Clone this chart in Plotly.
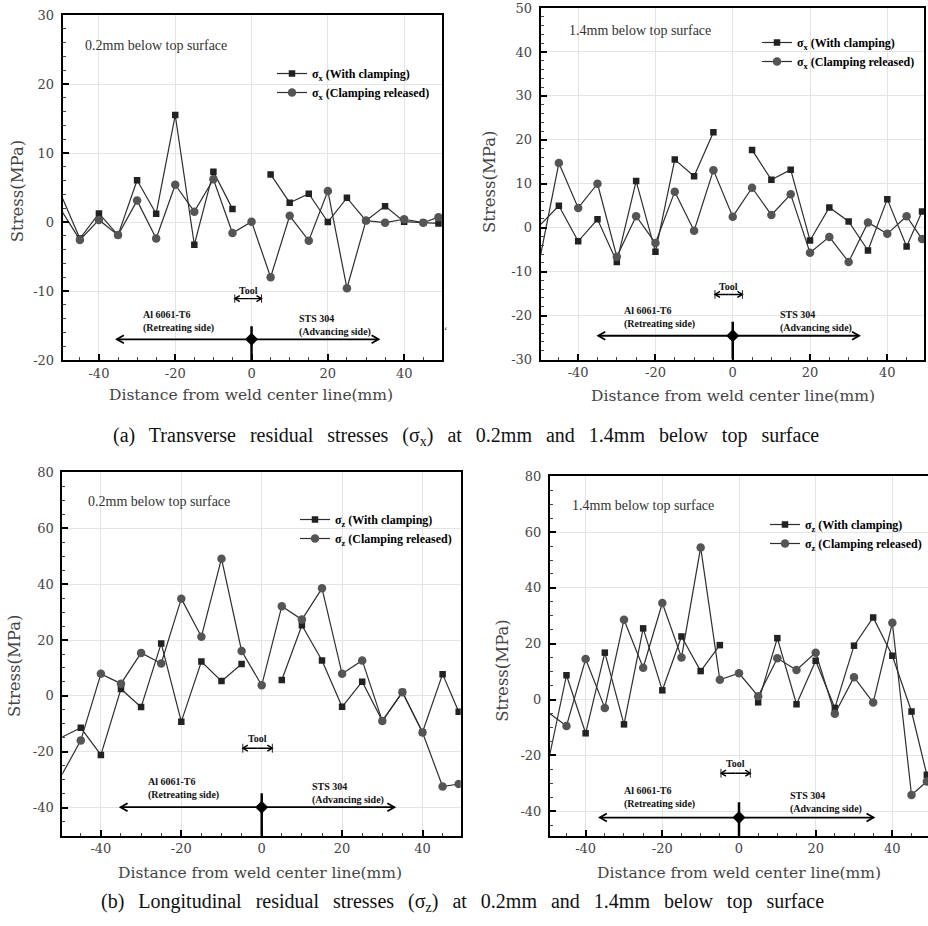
import plotly.graph_objects as go

# ---------------- data ----------------
x_pos = [-51, -45, -40, -35, -30, -25, -20, -15, -10, -5, 0, 5, 10, 15, 20, 25, 30, 35, 40, 45, 49]

sx02_clamp = [5.3, -2.4, 1.25, -1.9, 6.05, 1.2, 15.5, -3.3, 7.3, 1.9, None, 6.9, 2.8, 4.1, 0.0, 3.5, 0.2, 2.3, 0.05, -0.1, -0.2]
sx02_rel = [2.7, -2.6, 0.3, -1.9, 3.1, -2.4, 5.4, 1.5, 6.2, -1.6, 0.05, -8.0, 0.9, -2.7, 4.5, -9.6, 0.2, -0.1, 0.4, -0.1, 0.7]
sx14_clamp = [-0.4, 5.0, -3.1, 1.9, -7.8, 10.6, -5.5, 15.5, 11.7, 21.7, None, 17.7, 10.9, 13.2, -2.9, 4.6, 1.4, -5.2, 6.5, -4.3, 3.7]
sx14_rel = [-11.9, 14.7, 4.5, 10.0, -6.6, 2.6, -3.5, 8.2, -0.7, 13.1, 2.5, 9.1, 2.9, 7.6, -5.7, -2.1, -7.8, 1.2, -1.4, 2.6, -2.6]
sz02_clamp = [-15.7, -11.4, -21.1, 2.5, -4.0, 18.8, -9.2, 12.3, 5.3, 11.4, None, 5.7, 25.3, 12.7, -3.9, 5.1, -8.9, 1.4, -13.0, 7.8, -5.7]
sz02_rel = [-31.6, -15.9, 7.9, 4.4, 15.4, 11.6, 34.8, 21.2, 49.1, 16.1, 3.8, 32.1, 27.3, 38.5, 7.9, 12.7, -9.0, 1.3, -13.1, -32.4, -31.5]
sz14_clamp = [-30.5, 8.7, -12.1, 16.8, -8.9, 25.5, 3.3, 22.6, 10.2, 19.5, None, -1.0, 22.0, -1.7, 13.9, -3.0, 19.3, 29.4, 15.7, -4.3, -27.0]
sz14_rel = [-3.4, -9.5, 14.5, -3.0, 28.6, 11.4, 34.6, 15.1, 54.5, 7.1, 9.4, 1.2, 14.8, 10.6, 16.8, -5.1, 8.0, -1.1, 27.5, -34.2, -29.4]

x_tick_vals = [-40, -20, 0, 20, 40]
x_tick_text = ["-40", "-20", "0", "20", "40"]
y1_tick_vals = [-20, -10, 0, 10, 20, 30]
y1_tick_text = ["-20", "-10", "0", "10", "20", "30"]
y2_tick_vals = [-30, -20, -10, 0, 10, 20, 30, 40, 50]
y2_tick_text = ["-30", "-20", "-10", "0", "10", "20", "30", "40", "50"]
yz_tick_vals = [-40, -20, 0, 20, 40, 60, 80]
yz_tick_text = ["-40", "-20", "0", "20", "40", "60", "80"]

panel_labels = ["0.2mm below top surface", "1.4mm below top surface",
                "0.2mm below top surface", "1.4mm below top surface"]
x_title = "Distance from weld center line(mm)"
y_title = "Stress(MPa)"
SP = "\u00a0\u2009 "
caption_a = SP.join("(a) Transverse residual stresses (σ<sub>x</sub>) at 0.2mm and 1.4mm below top surface".split(" "))
caption_b = SP.join("(b) Longitudinal residual stresses (σ<sub>z</sub>) at 0.2mm and 1.4mm below top surface".split(" "))

# ---------------- layout helpers ----------------
W, H = 928, 926
def px(v):
    return v / W
def py(v):
    return 1 - v / H

TICKFONT = dict(family="DejaVu Serif", size=13, color="#444")
SERIF = "Liberation Serif"
BOLD10 = dict(family=SERIF, size=10, color="#111", weight="bold")

# panel frames in pixels: (left, right, top, bottom, xrange, yrange)
frames = [
    (62.7, 442.3, 15, 360, [-49.5, 50], [-20, 30]),
    (540.7, 924, 8, 359.5, [-49.7, 49.5], [-30, 50]),
    (62.3, 460.7, 472.3, 835.7, [-49.6, 49.5], [-50, 80]),
    (550, 928, 476.3, 835.7, [-49.3, 49.3], [-48.8, 80]),
]

def xaxis(fr, anchor, mirror=True):
    l, r, t, b, xr, yr = fr
    return dict(range=xr, domain=[px(l), px(r)], anchor=anchor, automargin=False,
                tickmode="array", tickvals=x_tick_vals, ticktext=x_tick_text,
                ticks="inside", ticklen=6, tickwidth=2, tickcolor="black",
                minor=dict(ticks="inside", ticklen=3, tickwidth=1, tickcolor="#444",
                           tickmode="linear", tick0=0, dtick=5, showgrid=False),
                showline=True, linecolor="black", linewidth=2, mirror=mirror,
                showgrid=True, gridcolor="#e4e4e4", gridwidth=1, zeroline=False,
                tickfont=TICKFONT, fixedrange=True)

def yaxis(fr, anchor, tv, tt, mdt, mirror=True):
    l, r, t, b, xr, yr = fr
    return dict(range=yr, domain=[py(b), py(t)], anchor=anchor, automargin=False,
                tickmode="array", tickvals=tv, ticktext=tt,
                ticks="inside", ticklen=6, tickwidth=2, tickcolor="black",
                minor=dict(ticks="inside", ticklen=3, tickwidth=1, tickcolor="#444",
                           tickmode="linear", tick0=0, dtick=mdt, showgrid=False),
                showline=True, linecolor="black", linewidth=2, mirror=mirror,
                showgrid=True, gridcolor="#e4e4e4", gridwidth=1, zeroline=False,
                tickfont=TICKFONT, ticklabelstandoff=4, fixedrange=True)

fig = go.Figure()

panels = [
    (sx02_clamp, sx02_rel, "x", "x", "y", "legend"),
    (sx14_clamp, sx14_rel, "x", "x2", "y2", "legend2"),
    (sz02_clamp, sz02_rel, "z", "x3", "y3", "legend3"),
    (sz14_clamp, sz14_rel, "z", "x4", "y4", "legend4"),
]
for clamp, rel, sym, xa, ya, lg in panels:
    fig.add_trace(go.Scatter(
        x=x_pos, y=clamp, mode="lines+markers", xaxis=xa, yaxis=ya, legend=lg,
        name=f"σ<sub>{sym}</sub> (With clamping)",
        line=dict(color="#2e2e2e", width=1.2),
        marker=dict(symbol="square", size=6.5, color="#222"),
        connectgaps=False))
    fig.add_trace(go.Scatter(
        x=x_pos, y=rel, mode="lines+markers", xaxis=xa, yaxis=ya, legend=lg,
        name=f"σ<sub>{sym}</sub> (Clamping released)",
        line=dict(color="#2e2e2e", width=1.2),
        marker=dict(symbol="circle", size=8.5, color="#555"),
        connectgaps=False))

# annotation geometry per panel (data coordinates)
annot_geo = [
    # ybottom, arr_y, vtop, left_tip, right_tip, tool_y, tool_l, tool_r, tool_txt_y, tool_bar, al_x, al_y, sts_x, sts_y
    (-20, -17.0, -15.1, -35.3, 33.3, -11.1, -4.4, 2.6, -9.9, 0.6, -29.0, -14.4, 12.0, -15.0),
    (-30, -24.6, -21.4, -34.8, 32.7, -15.2, -4.6, 2.5, -13.3, 1.0, -28.6, -20.4, 11.8, -21.4),
    (-50, -39.8, -34.8, -35.1, 33.0, -18.7, -4.7, 2.65, -15.1, 1.6, -28.9, -33.0, 12.0, -34.75),
    (-48.8, -42.3, -36.8, -36.3, 35.1, -26.4, -4.7, 2.95, -23.1, 1.6, -30.4, -35.0, 12.9, -36.75),
]
axis_ids = [("x", "y"), ("x2", "y2"), ("x3", "y3"), ("x4", "y4")]

annotations = []
shapes = []

def arrow(xa, ya, fr, x_from, x_to, y, head_len, head_half, width):
    l, r, t, b, xr, yr = fr
    ux = (xr[1] - xr[0]) / (r - l)
    uy = (yr[1] - yr[0]) / (b - t)
    s = 1 if x_to > x_from else -1
    hx = x_to - s * head_len * ux
    out = [dict(type="line", xref=xa, yref=ya, x0=x_from, x1=x_to, y0=y, y1=y,
                line=dict(color="black", width=width))]
    out.append(dict(type="path", xref=xa, yref=ya,
                    path=f"M{hx},{y + head_half * uy} L{x_to},{y} L{hx},{y - head_half * uy}",
                    line=dict(color="black", width=width)))
    return out

for (xa, ya), fr, g in zip(axis_ids, frames, annot_geo):
    (yb, ay_, vtop, lt, rt, ty, tl, tr, tty, tb, alx, aly, stx, sty) = g
    shapes += arrow(xa, ya, fr, 0, lt, ay_, 7, 4, 1.8)
    shapes += arrow(xa, ya, fr, 0, rt, ay_, 7, 4, 1.8)
    mid = (tl + tr) / 2
    shapes += arrow(xa, ya, fr, mid, tl, ty, 5, 3, 1.4)
    shapes += arrow(xa, ya, fr, mid, tr, ty, 5, 3, 1.4)
    for xe in (tl, tr):
        shapes.append(dict(type="line", xref=xa, yref=ya, x0=xe, x1=xe, y0=ty - tb, y1=ty + tb,
                           line=dict(color="#222", width=1)))
    shapes.append(dict(type="line", xref=xa, yref=ya, x0=0, x1=0, y0=yb, y1=vtop,
                       line=dict(color="black", width=2.5)))
    annotations.append(dict(x=mid, y=tty, xref=xa, yref=ya, text="Tool", showarrow=False,
                            font=BOLD10, yanchor="middle"))
    annotations.append(dict(x=alx, y=aly, xref=xa, yref=ya, text="Al 6061-T6<br>(Retreating side)",
                            showarrow=False, align="left", xanchor="left", yanchor="middle", font=BOLD10))
    annotations.append(dict(x=stx, y=sty, xref=xa, yref=ya, text="STS 304<br>(Advancing side)",
                            showarrow=False, align="left", xanchor="left", yanchor="middle", font=BOLD10))
    fig.add_trace(go.Scatter(x=[0], y=[ay_], xaxis=xa, yaxis=ya, mode="markers", showlegend=False,
                             marker=dict(symbol="diamond", size=10, color="black"), hoverinfo="skip"))

# panel labels
for txt, (lx, ly) in zip(panel_labels, [(83, 45), (566.7, 30.7), (86, 501.7), (570, 505.7)]):
    annotations.append(dict(x=px(lx), y=py(ly), xref="paper", yref="paper", text=txt, showarrow=False,
                            xanchor="left", yanchor="middle", font=dict(family=SERIF, size=14, color="#333")))

# axis titles
for (cx, cy) in [(251, 395), (733, 395.7), (260, 873), (739, 873)]:
    annotations.append(dict(x=px(cx), y=py(cy), xref="paper", yref="paper", text=x_title, showarrow=False,
                            xanchor="center", yanchor="middle",
                            font=dict(family="DejaVu Serif", size=15.5, color="#444")))
for (cx, cy) in [(17.3, 191), (490, 182), (14, 666), (501.7, 670)]:
    annotations.append(dict(x=px(cx), y=py(cy), xref="paper", yref="paper", text=y_title, showarrow=False,
                            textangle=-90, xanchor="center", yanchor="middle",
                            font=dict(family="DejaVu Serif", size=16.5, color="#444")))

# captions
annotations.append(dict(x=px(466), y=py(436), xref="paper", yref="paper", text=caption_a, showarrow=False,
                        xanchor="center", yanchor="middle", font=dict(family=SERIF, size=20, color="#111")))
annotations.append(dict(x=px(462), y=py(902), xref="paper", yref="paper", text=caption_b, showarrow=False,
                        xanchor="center", yanchor="middle", font=dict(family=SERIF, size=20, color="#111")))
annotations.append(dict(x=px(446), y=py(330), xref="paper", yref="paper", text="‘", showarrow=False,
                        font=dict(family=SERIF, size=11, color="#333")))

LEG = dict(bgcolor="rgba(0,0,0,0)", font=dict(family=SERIF, size=12, color="black", weight="bold"),
           tracegroupgap=0, xanchor="left", yanchor="top", itemclick=False, itemdoubleclick=False)

fig.update_layout(
    width=W, height=H, margin=dict(l=0, r=0, t=0, b=0, autoexpand=False),
    paper_bgcolor="white", plot_bgcolor="white", showlegend=True,
    xaxis=xaxis(frames[0], "y"),
    yaxis=yaxis(frames[0], "x", y1_tick_vals, y1_tick_text, 2),
    xaxis2=xaxis(frames[1], "y2"),
    yaxis2=yaxis(frames[1], "x2", y2_tick_vals, y2_tick_text, 2),
    xaxis3=xaxis(frames[2], "y3"),
    yaxis3=yaxis(frames[2], "x3", yz_tick_vals, yz_tick_text, 5),
    xaxis4=xaxis(frames[3], "y4"),
    yaxis4=yaxis(frames[3], "x4", yz_tick_vals, yz_tick_text, 5, mirror=False),
    legend=dict(LEG, x=px(272), y=py(59)),
    legend2=dict(LEG, x=px(757), y=py(28)),
    legend3=dict(LEG, x=px(295), y=py(505)),
    legend4=dict(LEG, x=px(765), y=py(510)),
    annotations=annotations, shapes=shapes,
)

fig.write_html("out.html", config={"displayModeBar": False},
               post_script="document.body.style.margin='0';document.body.style.overflow='hidden';")
